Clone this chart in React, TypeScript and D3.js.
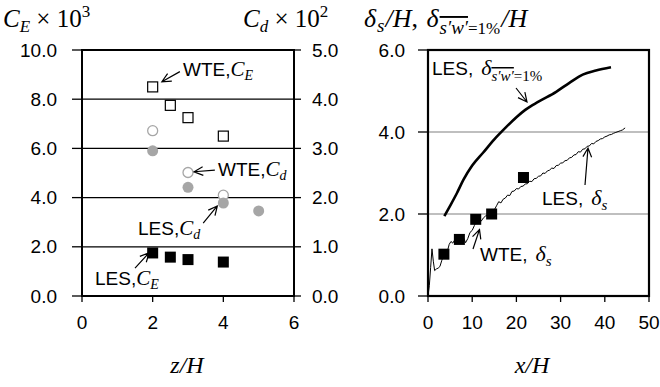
import React from 'react';
import * as d3 from 'd3';

// ---- Left panel data ----
const zWTE_CE = [2, 2.5, 3, 4];
const wteCE = [8.5, 7.75, 7.25, 6.5];
const zLES_CE = [2, 2.5, 3, 4];
const lesCE = [1.75, 1.58, 1.48, 1.38];
const zWTE_Cd = [2, 3, 4];
const wteCd = [3.36, 2.51, 2.05];
const zLES_Cd = [2, 3, 4, 5];
const lesCd = [2.95, 2.21, 1.89, 1.73];
const leftXTicks = [0, 2, 4, 6];
const leftYTicks = [0, 2, 4, 6, 8, 10];
const leftY2Ticks = [0, 1, 2, 3, 4, 5];

// ---- Right panel data ----
const wteDx = [3.6, 7.1, 10.8, 14.4, 21.6];
const wteDs = [1.02, 1.38, 1.87, 2.0, 2.89];
const les1X = [3.7, 5, 6.5, 8, 10, 12.5, 15, 17.5, 20, 22, 25, 29, 32, 35, 38, 41.4];
const les1Y = [1.95, 2.2, 2.5, 2.83, 3.18, 3.5, 3.82, 4.1, 4.36, 4.54, 4.74, 4.98, 5.2, 5.4, 5.5, 5.58];
const lesSX = [0, 0.3, 0.6, 0.9, 1.2, 1.5, 1.9, 2.3, 2.7, 3.1, 3.5, 4.0, 4.4, 4.8, 5.2, 5.6, 6.0, 6.5, 7.0, 7.5, 8.0, 8.5, 9.0, 9.5, 10.0, 10.5, 11.0, 11.5, 12.0, 12.5, 13.0, 13.5, 14.3, 15.0, 15.5, 16.0, 16.5, 17.0, 17.5, 18.0, 18.5, 19.0, 19.5, 20.0, 20.5, 21.0, 21.5, 22.0, 22.5, 23.0, 23.5, 24.0, 24.5, 25.0, 25.5, 26.0, 26.5, 27.0, 27.5, 28.0, 28.5, 29.0, 29.5, 30.0, 30.5, 31.0, 31.5, 32.0, 32.5, 33.0, 33.5, 34.0, 34.5, 35.0, 35.5, 36.0, 36.5, 37.0, 37.5, 38.0, 38.5, 39.0, 39.5, 40.0, 40.5, 41.0, 41.5, 42.0, 42.5, 43.0, 43.5, 44.0, 44.6];
const lesSY = [0, 0.25, 0.7, 1.15, 0.85, 0.62, 0.66, 0.68, 0.72, 0.86, 1.0, 1.06, 1.1, 1.26, 1.33, 1.29, 1.36, 1.33, 1.38, 1.41, 1.43, 1.3, 1.4, 1.55, 1.6, 1.72, 1.84, 1.78, 1.82, 1.9, 1.95, 1.97, 2.0, 2.1, 2.2, 2.3, 2.27, 2.36, 2.39, 2.46, 2.45, 2.55, 2.56, 2.62, 2.61, 2.67, 2.68, 2.73, 2.74, 2.8, 2.79, 2.86, 2.87, 2.92, 2.93, 3.0, 2.99, 3.05, 3.07, 3.12, 3.11, 3.18, 3.19, 3.24, 3.25, 3.3, 3.31, 3.37, 3.38, 3.44, 3.45, 3.52, 3.51, 3.58, 3.59, 3.65, 3.66, 3.72, 3.71, 3.77, 3.79, 3.83, 3.84, 3.88, 3.9, 3.93, 3.94, 3.97, 3.99, 4.01, 4.03, 4.05, 4.1];
const rightXTicks = [0, 10, 20, 30, 40, 50];
const rightYTicks = [0, 2, 4, 6];

const SANS = 'Liberation Sans, Arial, sans-serif';
const SERIF = 'Liberation Serif, Times New Roman, serif';

function arrowPath(x1: number, y1: number, x2: number, y2: number, len = 10, ang = 0.45) {
  const a = Math.atan2(y2 - y1, x2 - x1);
  const h1x = x2 - len * Math.cos(a - ang), h1y = y2 - len * Math.sin(a - ang);
  const h2x = x2 - len * Math.cos(a + ang), h2y = y2 - len * Math.sin(a + ang);
  return `M${x1},${y1}L${x2},${y2}M${h1x},${h1y}L${x2},${y2}L${h2x},${h2y}`;
}

export default function App() {
  const xL = d3.scaleLinear().domain([0, 6]).range([82, 294]);
  const yL = d3.scaleLinear().domain([0, 10]).range([296, 50]);
  const yL2 = d3.scaleLinear().domain([0, 5]).range([296, 50]);
  const xR = d3.scaleLinear().domain([0, 50]).range([428, 649]);
  const yR = d3.scaleLinear().domain([0, 6]).range([296, 50]);

  const les1Line = d3.line<number>().x((d, i) => xR(les1X[i])).y((d) => yR(d)).curve(d3.curveMonotoneX)(les1Y) || '';
  const lesSLine = d3.line<number>().x((d, i) => xR(lesSX[i])).y((d) => yR(d))(lesSY) || '';

  const sq = 11;
  const tickFs = 19;
  const annFs = 19;

  return (
    <svg width={660} height={387} style={{ position: 'absolute', left: 0, top: 0, background: '#fff' }}>
      <rect x={0} y={0} width={660} height={387} fill="#fff" />
      {/* ---- Titles ---- */}
      <text x={3} y={27} fontFamily={SERIF} fontSize={25}>
        <tspan fontStyle="italic">C</tspan>
        <tspan fontStyle="italic" fontSize={17} dy={5}>E</tspan>
        <tspan dy={-5}> × 10</tspan>
        <tspan fontSize={17} dy={-10}>3</tspan>
      </text>
      <text x={243} y={27} fontFamily={SERIF} fontSize={25}>
        <tspan fontStyle="italic">C</tspan>
        <tspan fontStyle="italic" fontSize={17} dy={5}>d</tspan>
        <tspan dy={-5}> × 10</tspan>
        <tspan fontSize={17} dy={-10}>2</tspan>
      </text>
      <text x={364} y={27} fontFamily={SERIF} fontSize={26}>
        <tspan fontStyle="italic">δ</tspan>
        <tspan fontStyle="italic" fontSize={19} dy={5} dx={1}>s</tspan>
        <tspan fontStyle="italic" dy={-5} dx={1}>/H</tspan>
        <tspan>,  </tspan>
        <tspan fontStyle="italic" dx={2}>δ</tspan>
        <tspan fontStyle="italic" fontSize={19} dy={7} dx={1} textDecoration="overline">s′w′</tspan>
        <tspan fontSize={17}>=1%</tspan>
        <tspan fontStyle="italic" dy={-7} dx={1}>/H</tspan>
      </text>

      {/* ---- Left panel ---- */}
      {[2, 4, 6, 8].map((v) => (
        <line key={'gl' + v} x1={82} x2={294} y1={yL(v)} y2={yL(v)} stroke="#000" strokeWidth={1.3} />
      ))}
      <rect x={82} y={50} width={212} height={246} fill="none" stroke="#000" strokeWidth={2} />
      {leftYTicks.map((v) => (
        <g key={'ly' + v}>
          <line x1={72} x2={82} y1={yL(v)} y2={yL(v)} stroke="#000" strokeWidth={1.3} />
          <text x={57} y={yL(v)} dy="0.35em" textAnchor="end" fontFamily={SANS} fontSize={tickFs}>{v.toFixed(1)}</text>
        </g>
      ))}
      {leftY2Ticks.map((v) => (
        <g key={'ly2' + v}>
          <line x1={294} x2={301} y1={yL2(v)} y2={yL2(v)} stroke="#000" strokeWidth={1.3} />
          <text x={312} y={yL2(v)} dy="0.35em" textAnchor="start" fontFamily={SANS} fontSize={tickFs}>{v.toFixed(1)}</text>
        </g>
      ))}
      {leftXTicks.map((v) => (
        <g key={'lx' + v}>
          <line x1={xL(v)} x2={xL(v)} y1={296} y2={302} stroke="#000" strokeWidth={1.3} />
          <text x={xL(v)} y={329} textAnchor="middle" fontFamily={SANS} fontSize={tickFs}>{v}</text>
        </g>
      ))}
      <text x={187} y={373} textAnchor="middle" fontFamily={SERIF} fontSize={24} fontStyle="italic">z/H</text>

      {zWTE_Cd.map((z, i) => (
        <circle key={'wcd' + i} cx={xL(z)} cy={yL2(wteCd[i])} r={5} fill="#fff" stroke="#a6a6a6" strokeWidth={1.3} />
      ))}
      {zLES_Cd.map((z, i) => (
        <circle key={'lcd' + i} cx={xL(z)} cy={yL2(lesCd[i])} r={5.5} fill="#a6a6a6" />
      ))}
      {zWTE_CE.map((z, i) => (
        <rect key={'wce' + i} x={xL(z) - sq / 2 + 0.5} y={yL(wteCE[i]) - sq / 2 + 0.5} width={sq - 1} height={sq - 1} fill="#fff" stroke="#000" strokeWidth={1.2} />
      ))}
      {zLES_CE.map((z, i) => (
        <rect key={'lce' + i} x={xL(z) - sq / 2} y={yL(lesCE[i]) - sq / 2} width={sq} height={sq} fill="#000" />
      ))}

      {/* left annotations */}
      <path d={arrowPath(xL(2.77), yL(9.12), xL(2.26), yL(8.71))} fill="none" stroke="#000" strokeWidth={1.2} />
      <text x={183} y={76} fontFamily={SANS} fontSize={annFs}>WTE,
        <tspan fontFamily={SERIF} fontStyle="italic" fontSize={21}>C</tspan>
        <tspan fontFamily={SERIF} fontStyle="italic" fontSize={14} dy={4}>E</tspan>
      </text>
      <path d={arrowPath(xL(3.76), yL(5.12), xL(3.17), yL(5.05))} fill="none" stroke="#000" strokeWidth={1.2} />
      <text x={218} y={176} fontFamily={SANS} fontSize={annFs}>WTE,
        <tspan fontFamily={SERIF} fontStyle="italic" fontSize={21}>C</tspan>
        <tspan fontFamily={SERIF} fontStyle="italic" fontSize={14} dy={4}>d</tspan>
      </text>
      <path d={arrowPath(xL(3.43), yL(2.96), xL(3.83), yL(3.66))} fill="none" stroke="#000" strokeWidth={1.2} />
      <text x={138} y={235} fontFamily={SANS} fontSize={annFs}>LES,
        <tspan fontFamily={SERIF} fontStyle="italic" fontSize={21}>C</tspan>
        <tspan fontFamily={SERIF} fontStyle="italic" fontSize={14} dy={4}>d</tspan>
      </text>
      <path d={arrowPath(xL(1.5), yL(1.13), xL(1.9), yL(1.76))} fill="none" stroke="#000" strokeWidth={1.2} />
      <text x={95} y={285} fontFamily={SANS} fontSize={annFs}>LES,
        <tspan fontFamily={SERIF} fontStyle="italic" fontSize={21}>C</tspan>
        <tspan fontFamily={SERIF} fontStyle="italic" fontSize={14} dy={4}>E</tspan>
      </text>

      {/* ---- Right panel ---- */}
      {[2, 4].map((v) => (
        <line key={'gr' + v} x1={428} x2={649} y1={yR(v)} y2={yR(v)} stroke="#808080" strokeWidth={1.2} />
      ))}
      <rect x={428} y={50} width={221} height={246} fill="none" stroke="#000" strokeWidth={2.2} />
      {rightYTicks.map((v) => (
        <g key={'ry' + v}>
          <line x1={418} x2={428} y1={yR(v)} y2={yR(v)} stroke="#000" strokeWidth={1.3} />
          <text x={405} y={yR(v)} dy="0.35em" textAnchor="end" fontFamily={SANS} fontSize={tickFs}>{v.toFixed(1)}</text>
        </g>
      ))}
      {rightXTicks.map((v) => (
        <g key={'rx' + v}>
          <line x1={xR(v)} x2={xR(v)} y1={296} y2={302} stroke="#000" strokeWidth={1.3} />
          <text x={xR(v)} y={329} textAnchor="middle" fontFamily={SANS} fontSize={tickFs}>{v}</text>
        </g>
      ))}
      <text x={532} y={373} textAnchor="middle" fontFamily={SERIF} fontSize={24} fontStyle="italic">x/H</text>

      <path d={les1Line} fill="none" stroke="#000" strokeWidth={2.6} />
      <path d={lesSLine} fill="none" stroke="#000" strokeWidth={1} />
      {wteDx.map((x, i) => (
        <rect key={'wd' + i} x={xR(x) - sq / 2} y={yR(wteDs[i]) - sq / 2} width={sq} height={sq} fill="#000" />
      ))}

      {/* right annotations */}
      <text x={432} y={75} fontFamily={SANS} fontSize={annFs}>LES,
        <tspan fontFamily={SERIF} fontStyle="italic" fontSize={22} dx={8}>δ</tspan>
        <tspan fontFamily={SERIF} fontStyle="italic" fontSize={15} dy={6} textDecoration="overline">s′w′</tspan>
        <tspan fontFamily={SERIF} fontSize={15}>=1%</tspan>
      </text>
      <path d={arrowPath(516, 88, 527, 102)} fill="none" stroke="#000" strokeWidth={1.2} />
      <text x={542} y={205} fontFamily={SANS} fontSize={annFs}>LES,
        <tspan fontFamily={SERIF} fontStyle="italic" fontSize={22} dx={8}>δ</tspan>
        <tspan fontFamily={SERIF} fontStyle="italic" fontSize={15} dy={5}>s</tspan>
      </text>
      <path d={arrowPath(585, 185, 588, 148)} fill="none" stroke="#000" strokeWidth={1.2} />
      <text x={480} y={261} fontFamily={SANS} fontSize={annFs}>WTE,
        <tspan fontFamily={SERIF} fontStyle="italic" fontSize={22} dx={8}>δ</tspan>
        <tspan fontFamily={SERIF} fontStyle="italic" fontSize={15} dy={5}>s</tspan>
      </text>
      <path d={arrowPath(473, 249, 479.5, 229.5)} fill="none" stroke="#000" strokeWidth={1.2} />
    </svg>
  );
}
